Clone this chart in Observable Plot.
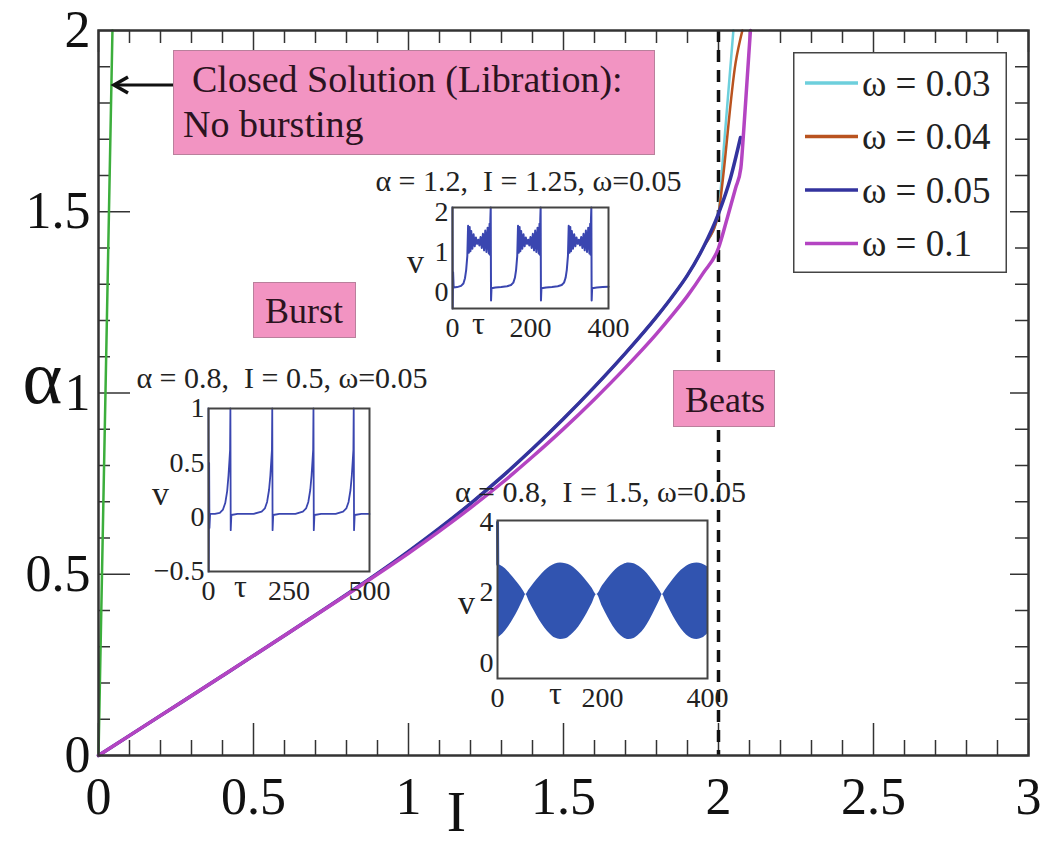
<!DOCTYPE html>
<html><head><meta charset="utf-8">
<script src="https://cdn.jsdelivr.net/npm/d3@7"></script>
<script src="https://cdn.jsdelivr.net/npm/@observablehq/plot@0.6"></script>
<style>
html,body{margin:0;padding:0;background:#fff;}
#wrap{position:relative;width:1043px;height:849px;font-family:"Liberation Serif",serif;overflow:hidden;background:#fff;}
.pink{position:absolute;background:#f294c2;border:1px solid #b9809c;color:#2b1320;box-sizing:border-box;white-space:nowrap;font-family:"Liberation Serif",serif;}
.pink span{position:absolute;line-height:1;}
</style></head><body><div id="wrap"></div>
<script>
// ---------------- data ----------------
const seriesLabels = ["ω = 0.03", "ω = 0.04", "ω = 0.05", "ω = 0.1"];
const seriesColors = ["#6dcfdc", "#b9531f", "#33339e", "#b444c2"];

const I_w003 = [0,0.2,0.4,0.6,0.8,0.9,1.0,1.1,1.2,1.3,1.4,1.5,1.6,1.7,1.8,1.85,1.9,1.95,2.0,2.015,2.048];
const A_w003 = [0,0.11,0.22,0.331,0.444,0.502,0.563,0.627,0.695,0.768,0.846,0.929,1.017,1.11,1.21,1.265,1.325,1.40,1.495,1.655,2.0];
const I_w004 = [0,0.2,0.4,0.6,0.8,0.9,1.0,1.1,1.2,1.3,1.4,1.5,1.6,1.7,1.8,1.85,1.9,1.95,2.0,2.01,2.055,2.077];
const A_w004 = [0,0.11,0.22,0.331,0.444,0.502,0.563,0.627,0.695,0.768,0.846,0.929,1.017,1.11,1.21,1.265,1.325,1.40,1.495,1.56,1.91,2.0];
const I_w005 = [0,0.2,0.4,0.6,0.8,0.9,1.0,1.1,1.2,1.3,1.4,1.5,1.6,1.7,1.8,1.85,1.9,1.95,2.0,2.039,2.071];
const A_w005 = [0,0.11,0.22,0.331,0.444,0.502,0.563,0.627,0.695,0.768,0.846,0.929,1.017,1.11,1.21,1.265,1.325,1.40,1.495,1.594,1.705];
const I_w01  = [0,0.2,0.4,0.6,0.8,0.9,1.0,1.1,1.2,1.3,1.4,1.5,1.6,1.7,1.8,1.85,1.9,1.95,2.0,2.029,2.055,2.072,2.081,2.092,2.103];
const A_w01  = [0,0.11,0.22,0.331,0.443,0.50,0.558,0.619,0.683,0.751,0.824,0.901,0.983,1.07,1.163,1.214,1.268,1.33,1.40,1.485,1.565,1.62,1.72,1.86,2.0];

const I_closed = [0, 0.045];
const A_closed = [0, 2];

const xMajor = [0,0.5,1,1.5,2,2.5,3];
const xMinor = [0.1,0.2,0.3,0.4,0.6,0.7,0.8,0.9,1.1,1.2,1.3,1.4,1.6,1.7,1.8,1.9,2.1,2.2,2.3,2.4,2.6,2.7,2.8,2.9];
const yMajor = [0,0.5,1,1.5,2];
const yMinor = [0.1,0.2,0.3,0.4,0.6,0.7,0.8,0.9,1.1,1.2,1.3,1.4,1.6,1.7,1.8,1.9];
const I_beatsBoundary = [2];

// inset 1 : alpha=1.2, I=1.25
const burstA = [[0,2.1],[0.5,-0.4],[1.5,0.5],[3,0.12],[12,0.13],[22,0.16],[28,0.22],[32,0.35],[35,0.55],[38,0.9],
 [40,1.65],[42,0.98],[44,1.62],[46,1.02],[48,1.52],[51,1.08],[54,1.44],[57,1.14],[60,1.36],[63,1.2],[66,1.3],[69,1.16],[72,1.37],[75,1.1],[78,1.45],[81,1.04],[84,1.53],[87,1.0],[90,1.6],[93,0.96],[95,1.7],[96,0.93],[97,1.8],[98,2.1],[98.8,-0.2],[100,0.1],
 [110,0.12],[125,0.13],[140,0.15],[150,0.18],[156,0.24],[160,0.36],[163,0.55],[166,0.9],
 [168,1.65],[170,0.98],[172,1.62],[174,1.02],[176,1.52],[179,1.08],[182,1.44],[185,1.14],[188,1.36],[191,1.2],[194,1.3],[197,1.16],[200,1.37],[203,1.1],[206,1.45],[209,1.04],[212,1.53],[215,1.0],[218,1.6],[221,0.96],[223,1.7],[224,0.93],[225,1.8],[226,2.1],[226.8,-0.2],[228,0.1],
 [240,0.12],[255,0.13],[270,0.15],[280,0.18],[286,0.24],[290,0.36],[293,0.55],[296,0.9],
 [298,1.65],[300,0.98],[302,1.62],[304,1.02],[306,1.52],[309,1.08],[312,1.44],[315,1.14],[318,1.36],[321,1.2],[324,1.3],[327,1.16],[330,1.37],[333,1.1],[336,1.45],[339,1.04],[342,1.53],[345,1.0],[348,1.6],[351,0.96],[353,1.7],[354,0.93],[355,1.8],[356,2.1],[356.8,-0.2],[358,0.1],
 [370,0.12],[385,0.13],[400,0.14]];

// inset 2 : alpha=0.8, I=0.5
const burstB = [[0,1.0],[1,-0.5],[2,0.5],[3,-0.1],[5,0.03],[20,0.03],[35,0.04],[45,0.07],[52,0.13],[58,0.24],[62,0.38],[65,0.52],[67,0.62],[68,1.0],[69,-0.12],[71,0.02],
 [90,0.03],[140,0.03],[165,0.05],[175,0.08],[182,0.14],[188,0.25],[192,0.38],[195,0.52],[197,0.62],[198,1.0],[199,-0.12],[201,0.02],
 [220,0.03],[270,0.03],[293,0.05],[303,0.08],[310,0.14],[316,0.25],[320,0.38],[323,0.52],[325,0.62],[326,1.0],[327,-0.12],[329,0.02],
 [350,0.03],[395,0.03],[418,0.05],[428,0.08],[435,0.14],[441,0.25],[445,0.38],[448,0.52],[450,0.62],[451,1.0],[452,-0.12],[454,0.02],
 [475,0.03],[500,0.03]];

// inset 3 : alpha=0.8, I=1.5 (beats envelope)
const tau3 = [0,10,20,30,40,50,54,60,70,80,90,100,110,120,130,140,150,160,170,180,189,200,210,220,230,240,250,260,270,280,290,300,310,314,320,330,340,350,360,370,380,390,400];
const up3  = [2.81,2.73,2.60,2.43,2.24,2.03,1.94,2.07,2.27,2.45,2.61,2.73,2.81,2.84,2.82,2.76,2.65,2.50,2.32,2.13,1.94,2.19,2.39,2.57,2.71,2.80,2.84,2.82,2.74,2.62,2.45,2.25,2.03,1.94,2.07,2.28,2.47,2.63,2.75,2.82,2.84,2.81,2.73];
const lo3  = [0.70,0.82,1.00,1.24,1.51,1.82,1.94,1.76,1.47,1.21,0.99,0.82,0.70,0.66,0.68,0.78,0.93,1.14,1.39,1.67,1.94,1.59,1.30,1.04,0.84,0.71,0.66,0.69,0.80,0.97,1.21,1.50,1.81,1.94,1.76,1.46,1.19,0.96,0.79,0.69,0.66,0.70,0.82];
const transient3 = [[0,4.0],[0.5,2.8]];

// ---------------- main chart ----------------
const wrap = document.getElementById("wrap");
const FONT = "Liberation Serif";
const W = 1043, H = 849, ML = 98, MR = 15, MT = 30, MB = 94;
const FW = W - ML - MR, FH = H - MT - MB;
const series = [[I_w003, A_w003, 2.5], [I_w004, A_w004, 2.5], [I_w005, A_w005, 3.5], [I_w01, A_w01, 3.5]];
const tickC = "#333";
const fmt = d => (d < 0 ? "\u2212" + Math.abs(d) : String(d));

const main = Plot.plot({
  width: W, height: H, marginLeft: ML, marginRight: MR, marginTop: MT, marginBottom: MB,
  x: {domain: [0, 3]}, y: {domain: [0, 2]},
  style: {fontFamily: FONT, background: "#fff", overflow: "visible", color: "#111"},
  marks: [
    Plot.ruleX(xMinor, {insetTop: FH - 15, stroke: tickC, strokeWidth: 1.5}),
    Plot.ruleX(xMajor, {insetTop: FH - 32, stroke: tickC, strokeWidth: 1.5}),
    Plot.ruleX(xMinor, {insetBottom: FH - 13, stroke: tickC, strokeWidth: 1.5}),
    Plot.ruleX(xMajor, {insetBottom: FH - 22, stroke: tickC, strokeWidth: 1.5}),
    Plot.ruleY(yMinor, {insetRight: FW - 12, stroke: tickC, strokeWidth: 1.5}),
    Plot.ruleY(yMajor, {insetRight: FW - 32, stroke: tickC, strokeWidth: 1.5}),
    Plot.ruleY(yMinor, {insetLeft: FW - 13, stroke: tickC, strokeWidth: 1.5}),
    Plot.ruleY(yMajor, {insetLeft: FW - 18, stroke: tickC, strokeWidth: 1.5}),
    Plot.axisX({ticks: xMajor, tickSize: 0, tickPadding: 22, fontSize: 52, fontFamily: FONT, label: null, tickFormat: fmt}),
    Plot.axisY({ticks: yMajor, tickSize: 0, tickPadding: 8, fontSize: 52, fontFamily: FONT, label: null, tickFormat: fmt}),
    Plot.text(["α"], {text: d => d, frameAnchor: "left", textAnchor: "middle", dx: -56, dy: -14, fontSize: 76, fontFamily: FONT}),
    Plot.text(["I"], {text: d => d, frameAnchor: "bottom-left", textAnchor: "middle", dx: 358, dy: 75, fontSize: 58, fontFamily: FONT}),
    Plot.ruleX(I_beatsBoundary, {stroke: "#111", strokeWidth: 3.5, strokeDasharray: "12,8"}),
    Plot.line(d3.zip(I_closed, A_closed), {x: d => d[0], y: d => d[1], stroke: "#3cae3c", strokeWidth: 2.5}),
    ...series.map(([xs, ys, sw], i) => Plot.line(d3.zip(xs, ys), {x: d => d[0], y: d => d[1], stroke: seriesColors[i], strokeWidth: sw, curve: "monotone-x"})),
    Plot.frame({stroke: "#333", strokeWidth: 2.5})
  ]
});
main.style.position = "absolute"; main.style.left = "0px"; main.style.top = "0px";
wrap.appendChild(main);

// ---------------- insets ----------------
function inset(o) {
  const w = o.R - o.L + o.ml + o.mr, h = o.B - o.T + o.mt + o.mb;
  const svg = Plot.plot({
    width: w, height: h, marginLeft: o.ml, marginRight: o.mr, marginTop: o.mt, marginBottom: o.mb,
    x: {domain: o.xd}, y: {domain: o.yd},
    style: {fontFamily: FONT, background: "transparent", overflow: "visible", color: "#222"},
    marks: [
      ...o.marks,
      Plot.frame({stroke: "#444", strokeWidth: 2}),
      Plot.axisX({ticks: o.xt, tickSize: 0, tickPadding: 9, fontSize: 28, fontFamily: FONT, label: null, tickFormat: fmt}),
      Plot.axisY({ticks: o.yt, tickSize: 0, tickPadding: 4, fontSize: 28, fontFamily: FONT, label: null, tickFormat: fmt}),
      Plot.text([o.title], {text: d => d, frameAnchor: "top", textAnchor: "middle", dx: o.tdx, dy: o.tdy, fontSize: 30, fontFamily: FONT}),
      Plot.text(["v"], {text: d => d, frameAnchor: "left", textAnchor: "middle", dx: o.vdx, dy: 4, fontSize: 34, fontFamily: FONT}),
      Plot.text(["τ"], {text: d => d, frameAnchor: "bottom-left", textAnchor: "middle", dx: o.taudx, dy: 25, fontSize: 32, fontFamily: FONT})
    ]
  });
  svg.style.position = "absolute";
  svg.style.left = (o.L - o.ml) + "px";
  svg.style.top = (o.T - o.mt) + "px";
  wrap.appendChild(svg);
}
const lineBlue = "#3a46b0";
inset({L: 452, R: 608, T: 207, B: 308, ml: 100, mr: 100, mt: 60, mb: 50,
  xd: [0, 400], yd: [-0.4, 2.1], xt: [0, 200, 400], yt: [0, 1, 2],
  title: "α = 1.2,\u00a0 I = 1.25, ω=0.05", tdx: -2, tdy: -38, vdx: -37, taudx: 26,
  marks: [Plot.line(burstA, {x: d => d[0], y: d => d[1], stroke: lineBlue, strokeWidth: 2})]});
inset({L: 208, R: 369, T: 408, B: 571, ml: 100, mr: 100, mt: 60, mb: 50,
  xd: [0, 500], yd: [-0.5, 1], xt: [0, 250, 500], yt: [-0.5, 0, 0.5, 1],
  title: "α = 0.8,\u00a0 I = 0.5, ω=0.05", tdx: -7, tdy: -42, vdx: -48, taudx: 32,
  marks: [Plot.line(burstB, {x: d => d[0], y: d => d[1], stroke: lineBlue, strokeWidth: 1.8})]});
inset({L: 497, R: 707, T: 520, B: 678, ml: 100, mr: 100, mt: 60, mb: 50,
  xd: [0, 400], yd: [-0.45, 4.05], xt: [0, 200, 400], yt: [0, 2, 4],
  title: "α = 0.8,\u00a0 I = 1.5, ω=0.05", tdx: -2, tdy: -40, vdx: -31, taudx: 58,
  marks: [
    Plot.areaY(d3.range(tau3.length), {x: i => tau3[i], y1: i => lo3[i], y2: i => up3[i], fill: "#3154b0", curve: "monotone-x"}),
    Plot.line(transient3, {x: d => d[0], y: d => d[1], stroke: "#3154b0", strokeWidth: 3})
  ]});

// ---------------- annotation boxes ----------------
function pinkBox(l, t, w, h, lines) {
  const d = document.createElement("div");
  d.className = "pink";
  Object.assign(d.style, {left: l + "px", top: t + "px", width: w + "px", height: h + "px"});
  lines.forEach(([txt, x, y, fs]) => {
    const s = document.createElement("span");
    s.textContent = txt;
    Object.assign(s.style, {left: x + "px", top: y + "px", fontSize: fs + "px"});
    d.appendChild(s);
  });
  wrap.appendChild(d);
}
pinkBox(173, 50, 482, 105, [["Closed Solution (Libration):", 18, 9, 38], ["No bursting", 9, 54, 38]]);
pinkBox(253, 282, 103, 56, [["Burst", 11, 10, 36]]);
pinkBox(673, 370, 102, 57, [["Beats", 11, 11, 36]]);

// arrow
const arr = d3.create("svg").attr("width", W).attr("height", H)
  .style("position", "absolute").style("left", "0px").style("top", "0px").style("pointer-events", "none");
arr.append("line").attr("x1", 173).attr("y1", 85).attr("x2", 114).attr("y2", 85).attr("stroke", "#111").attr("stroke-width", 3);
arr.append("polyline").attr("points", "128,77 114,85 128,93").attr("fill", "none").attr("stroke", "#111").attr("stroke-width", 3.5);
wrap.appendChild(arr.node());

// ---------------- legend ----------------
const leg = d3.create("svg").attr("width", 214).attr("height", 221)
  .style("position", "absolute").style("left", "793px").style("top", "52px");
leg.append("rect").attr("x", 0.75).attr("y", 0.75).attr("width", 212.5).attr("height", 219.5)
  .attr("fill", "#fff").attr("stroke", "#444").attr("stroke-width", 1.5);
seriesLabels.forEach((lab, i) => {
  const cy = 31 + i * 53.5;
  leg.append("line").attr("x1", 12).attr("x2", 65).attr("y1", cy).attr("y2", cy)
    .attr("stroke", seriesColors[i]).attr("stroke-width", 3.5);
  leg.append("text").attr("x", 69).attr("y", cy).attr("dy", "0.35em")
    .attr("font-family", FONT).attr("font-size", 37).attr("fill", "#222").text(lab);
});
wrap.appendChild(leg.node());
</script></body></html>
